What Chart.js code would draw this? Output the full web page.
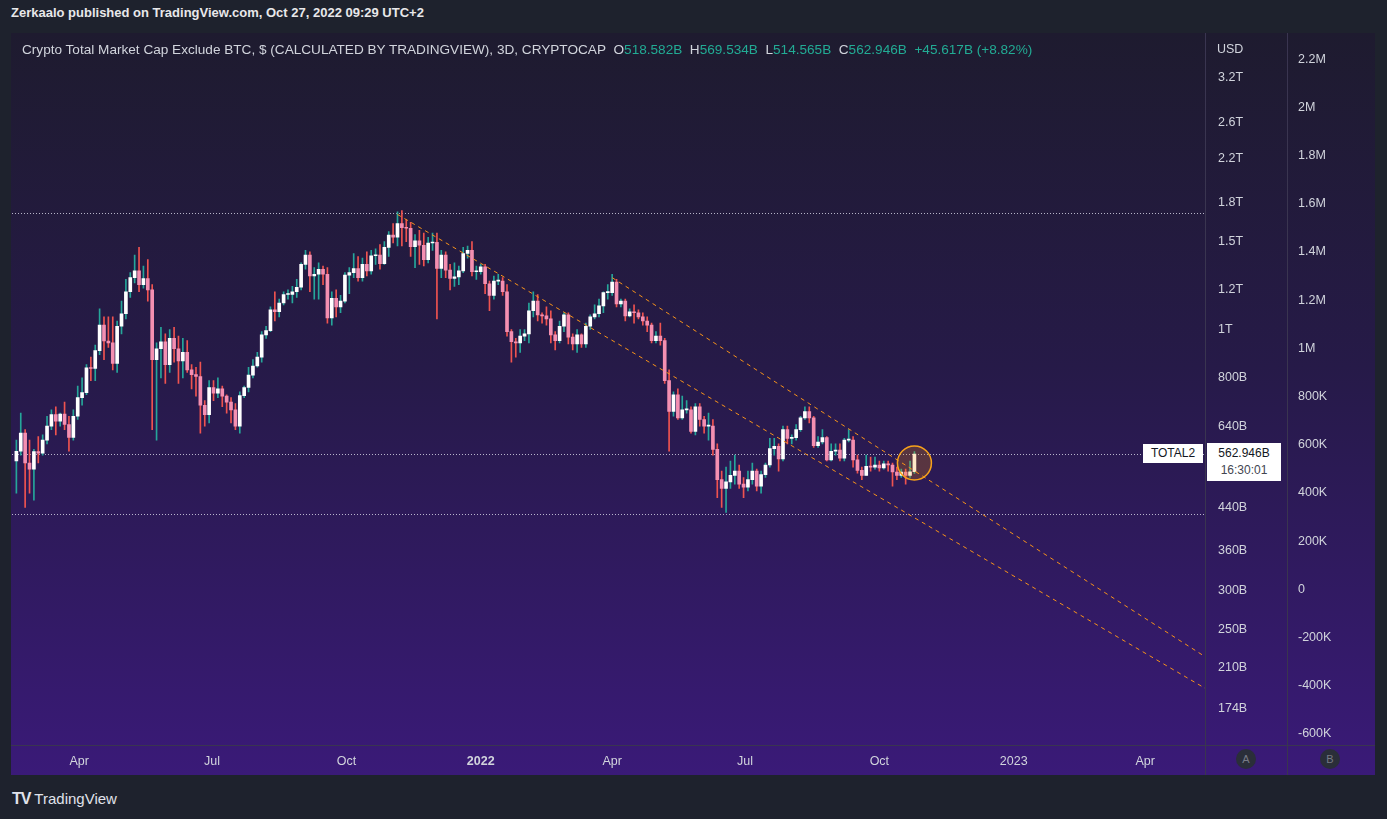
<!DOCTYPE html>
<html>
<head>
<meta charset="utf-8">
<script src="https://cdn.jsdelivr.net/npm/chart.js@4"></script>
<style>
  body{ margin:0; width:1387px; height:819px; background:#1e222d; font-family:"Liberation Sans","DejaVu Sans",sans-serif; overflow:hidden; position:relative; }
  #top{ position:absolute; left:11px; top:5px; color:#e8e8ea; font-size:13px; font-weight:bold; }
  #box{ position:absolute; left:11px; top:33px; width:1364px; height:742px; background:linear-gradient(#1e1b2f 0%, #261a48 45%, #3a1a78 100%); }
  #c{ position:absolute; left:0; top:-11px; }
  #legend{ position:absolute; left:11px; top:9px; color:#d1d4dc; font-size:13.6px; white-space:nowrap; }
  #legend .v{ color:#22ab94; }
  #usd{ position:absolute; left:1206px; top:9px; color:#d1d4dc; font-size:12.5px; }
  .tag{ position:absolute; background:#fff; color:#131722; font-size:12px; }
  .ab{ position:absolute; top:716px; width:20px; height:20px; border-radius:10px; background:#2a2e39; color:#787b86; font-size:11px; text-align:center; line-height:20px; }
  #foot{ position:absolute; left:12px; top:790px; color:#e0e3eb; font-size:15px; }
</style>
</head>
<body>
<div id="top">Zerkaalo published on TradingView.com, Oct 27, 2022 09:29 UTC+2</div>
<div id="box">
  <canvas id="c" width="1364" height="753"></canvas>
  <div id="legend">Crypto Total Market Cap Exclude BTC, $ (CALCULATED BY TRADINGVIEW), 3D, CRYPTOCAP&nbsp; O<span class="v">518.582B</span> &nbsp;H<span class="v">569.534B</span> &nbsp;L<span class="v">514.565B</span> &nbsp;C<span class="v">562.946B</span> &nbsp;<span class="v">+45.617B (+8.82%)</span></div>
  <div id="usd">USD</div>
  <div class="tag" style="left:1132px;top:411px;width:60px;height:19px;line-height:19px;text-align:center;">TOTAL2</div>
  <div class="tag" style="left:1196px;top:410px;width:74px;height:38px;text-align:center;line-height:17px;padding-top:2px;box-sizing:border-box;">562.946B<br><span style="color:#434651">16:30:01</span></div>
  <div class="ab" style="left:1225px;">A</div>
  <div class="ab" style="left:1309px;">B</div>
</div>
<div id="foot"><b style="font-size:16px;letter-spacing:-1px;">TV</b> TradingView</div>
<script>
// 3D candles, values in billions USD
const firstOpen = 545;
const closes = [570,620,540,525,569,565,600,640,675,655,677,645,608,670,730,747,838,835,907,1020,948,940,855,1015,1075,1190,1270,1310,1230,1265,1200,870,915,945,850,960,915,865,900,830,812,805,705,675,765,745,760,735,715,690,640,737,765,810,845,880,975,995,1095,1085,1130,1175,1175,1190,1215,1350,1410,
  1280,1290,1320,1290,1055,1155,1110,1140,1285,1300,1325,1270,1350,1310,1405,1410,1355,1460,1545,1530,1630,1600,1595,1465,1505,1475,1380,1490,1495,1325,1410,1315,1265,1275,1310,1420,1440,1305,1305,1335,1235,1170,1250,1250,1190,990,945,940,970,980,1090,1140,1070,1065,1050,975,950,1015,1070,965,935,975,935,1015,1060,1075,1115,1185,1185,1245,1125,
  1140,1065,1085,1080,1060,1040,1020,950,970,950,790,685,740,665,690,690,625,700,660,640,640,575,500,480,495,510,520,490,483,500,520,485,512,535,577,583,550,630,605,607,630,665,685,665,585,595,607,548,570,573,552,600,600,548,522,510,532,530,535,528,538,535,518,510,518,510,518.582,562.946];
const highs = [600,680,630,600,575,610,615,670,690,700,680,715,670,690,770,800,850,880,930,1100,1060,1060,1060,1040,1140,1260,1300,1410,1460,1340,1380,1230,940,1010,980,1000,1010,970,960,950,850,840,860,720,790,790,800,770,740,730,710,750,770,840,870,900,990,1015,1110,1190,1150,1190,1200,1220,1260,1360,1440,
  1430,1330,1360,1340,1330,1190,1200,1170,1300,1330,1420,1400,1390,1430,1440,1450,1480,1500,1570,1630,1720,1730,1660,1640,1550,1580,1560,1530,1560,1560,1440,1430,1350,1360,1340,1460,1470,1500,1340,1350,1350,1250,1280,1290,1270,1230,1000,960,1000,1000,1130,1190,1175,1080,1110,1090,990,1040,1080,1080,980,1000,980,1030,1070,1120,1150,1190,1230,1290,1260,
  1150,1150,1100,1120,1095,1080,1060,1030,990,1030,960,830,750,760,735,720,700,710,710,670,680,660,590,520,530,545,560,535,505,520,540,525,520,540,605,605,590,640,640,615,645,670,700,700,670,610,630,610,590,590,590,605,630,610,560,530,560,555,555,545,545,545,540,530,525,525,545,569.534];
const lows = [470,560,440,470,455,540,560,590,630,615,640,630,570,600,660,705,740,790,790,890,870,920,830,820,980,1050,1160,1240,1190,1210,1140,630,600,800,780,820,860,780,800,820,760,735,620,640,650,720,730,700,680,650,630,620,730,750,800,840,860,960,990,1040,1060,1120,1150,1130,1160,1200,1320,
  1190,1150,1150,1230,1030,1020,1060,1080,1130,1180,1270,1250,1250,1280,1290,1350,1320,1350,1400,1490,1470,1470,1500,1400,1330,1350,1340,1360,1440,1050,1270,1270,1200,1220,1230,1300,1390,1280,1260,1290,1180,1090,1150,1230,1170,970,860,880,900,950,940,1060,1040,1030,1020,940,910,940,990,935,910,900,920,920,1000,1050,1060,1080,1150,1170,1110,
  1110,1040,1060,1030,1050,1020,990,940,940,930,780,570,670,660,660,680,620,615,640,620,600,560,460,440,430,480,490,480,460,475,490,475,470,505,530,560,520,545,590,590,600,625,660,650,580,580,590,545,545,560,545,545,595,530,515,500,510,520,525,520,525,520,485,500,505,490,505,514.565];
const lastDay = 297;            // Oct 25 2022, days from 2022-01-01
const yTicks = [174,210,250,300,360,440,640,800,1000,1200,1500,1800,2200,2600,3200];
const xTickDays = [-275,-184,-92,0,90,181,273,365,455];
const xTickLabels = ['Apr','Jul','Oct','2022','Apr','Jul','Oct','2023','Apr'];
// channel lines: [day, value]
const lineA = [[-57,1700],[496,191]];
const lineB = [[90,1270],[496,221]];
const hLines = [1710,562.946,426];

const n = closes.length;
const opens = closes.map((c,i)=> i===0 ? firstOpen : closes[i-1]);
const up = closes.map((c,i)=> c >= opens[i]);
const days = closes.map((c,i)=> lastDay - (n-1-i)*3);

const wickData = days.map((d,i)=>({x:d, y:[lows[i],highs[i]]}));
const bodyData = days.map((d,i)=>({x:d, y:[Math.min(opens[i],closes[i]), Math.max(opens[i],closes[i])]}));

const overlay = {
  id:'overlay',
  beforeDatasetsDraw(chart){
    const {ctx, chartArea:a, scales:{y}} = chart;
    ctx.save();
    ctx.strokeStyle = 'rgba(220,220,235,0.8)';
    ctx.lineWidth = 1;
    ctx.setLineDash([1,2]);
    hLines.forEach(v=>{
      const py = Math.round(y.getPixelForValue(v))+0.5;
      ctx.beginPath(); ctx.moveTo(a.left,py); ctx.lineTo(a.right,py); ctx.stroke();
    });
    ctx.restore();
  },
  afterDatasetsDraw(chart){
    const {ctx, chartArea:a, scales:{x,y}} = chart;
    ctx.save();
    const cx = x.getPixelForValue(days[n-1]), cy = y.getPixelForValue(540);
    ctx.beginPath(); ctx.arc(cx, cy, 17, 0, Math.PI*2);
    ctx.fillStyle = 'rgba(255,152,0,0.22)'; ctx.fill();
    ctx.strokeStyle = '#f7a21b'; ctx.lineWidth = 1.5; ctx.stroke();
    // axis separators
    ctx.strokeStyle = '#3a3550'; ctx.lineWidth = 1;
    ctx.beginPath();
    ctx.moveTo(a.right+0.5, 11); ctx.lineTo(a.right+0.5, chart.height);
    ctx.moveTo(a.right+82.5, 11); ctx.lineTo(a.right+82.5, chart.height);
    ctx.moveTo(0, a.bottom+0.5); ctx.lineTo(chart.width, a.bottom+0.5);
    ctx.stroke();
    ctx.restore();
  }
};

new Chart(document.getElementById('c'), {
  type:'bar',
  data:{ datasets:[
    { data:wickData, barThickness:1, grouped:false, minBarLength:1, order:2,
      backgroundColor:c=> up[c.dataIndex] ? '#26a69a' : '#ef5350' },
    { data:bodyData, barThickness:3, grouped:false, minBarLength:1, order:1,
      backgroundColor:c=> up[c.dataIndex] ? '#ffffff' : '#f48fb1' },
    { type:'line', data:lineA.map(p=>({x:p[0],y:p[1]})), borderColor:'#f7931a', borderWidth:1, borderDash:[4,4], pointRadius:0, order:0 },
    { type:'line', data:lineB.map(p=>({x:p[0],y:p[1]})), borderColor:'#f7931a', borderWidth:1, borderDash:[4,4], pointRadius:0, order:0 }
  ]},
  options:{
    responsive:false, animation:false,
    layout:{ padding:{ left:1, top:0, right:0, bottom:0 } },
    plugins:{ legend:{display:false}, tooltip:{enabled:false} },
    scales:{
      x:{ type:'linear', min:-321, max:496, offset:false,
        grid:{display:false}, border:{display:false},
        afterBuildTicks(ax){ ax.ticks = xTickDays.map(v=>({value:v})); },
        afterFit(ax){ ax.height = 30; },
        ticks:{ color:'#d1d4dc', padding:1, maxRotation:0, autoSkip:false,
          font:c=> ({ size:12.5, weight: (c.tick && c.tick.value===0) ? 'bold' : 'normal', family:'Liberation Sans' }),
          callback:(v)=>{ const i = xTickDays.indexOf(v); return i>=0 ? xTickLabels[i] : ''; } } },
      y:{ type:'logarithmic', position:'right', weight:0, min:147, max:3900,
        grid:{display:false}, border:{display:false},
        afterBuildTicks(ax){ ax.ticks = yTicks.map(v=>({value:v})); },
        afterFit(ax){ ax.width = 82; },
        ticks:{ color:'#d1d4dc', padding:5, font:{size:12.5, family:'Liberation Sans'},
          callback:v=> v>=1000 ? (v/1000)+'T' : v+'B' } },
      y2:{ type:'linear', position:'right', weight:1, min:-646000, max:2302000, display:true,
        grid:{display:false}, border:{display:false},
        afterBuildTicks(ax){ const t=[]; for(let v=-600000; v<=2200000; v+=200000) t.push({value:v}); ax.ticks=t; },
        afterFit(ax){ ax.width = 88; },
        ticks:{ color:'#d1d4dc', padding:3, font:{size:12.5, family:'Liberation Sans'},
          callback:v=> v===0 ? '0' : (Math.abs(v)>=1000000 ? (v/1000000)+'M' : (v/1000)+'K') } }
    }
  },
  plugins:[overlay]
});
</script>
</body>
</html>
